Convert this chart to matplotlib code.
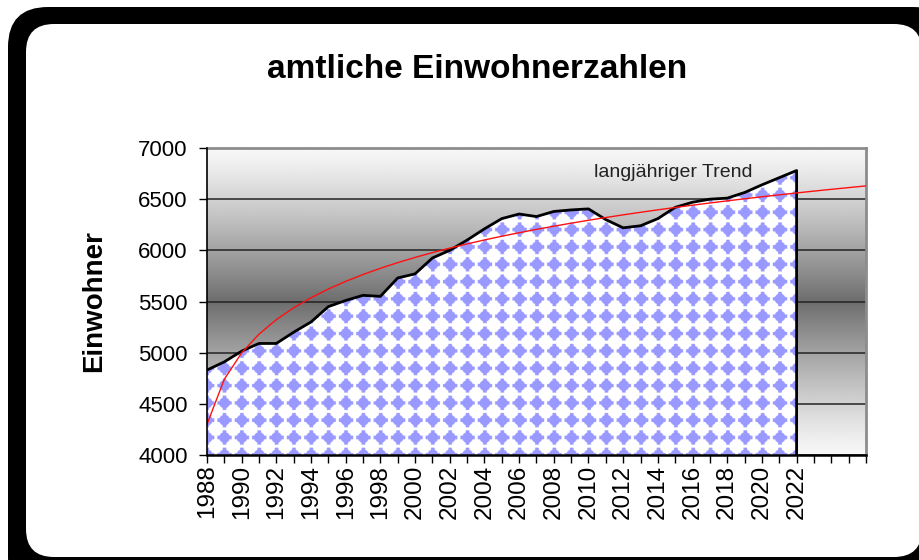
import numpy as np
import matplotlib
matplotlib.use('Agg')
import matplotlib.pyplot as plt
from matplotlib.patches import FancyBboxPatch, Polygon

plt.rcParams['font.family'] = ['Liberation Sans', 'DejaVu Sans']

# amtliche Einwohnerzahlen
years = np.arange(1988, 2023)
einwohner = [4830, 4910, 5015, 5090, 5090, 5200, 5300, 5450, 5510, 5560,
             5550, 5730, 5770, 5925, 6000, 6100, 6210, 6310, 6355, 6330,
             6380, 6395, 6405, 6300, 6220, 6240, 6310, 6420, 6470, 6500,
             6510, 6565, 6640, 6710, 6780]
year_min, year_max = 1988, 2026
y_min, y_max = 4000, 7000

fig = plt.figure(figsize=(9.19, 5.6), dpi=100)

# rounded frame drawn in pixel units
bg = fig.add_axes([0, 0, 1, 1], zorder=-10)
bg.set_xlim(0, 919)
bg.set_ylim(560, 0)
bg.axis('off')
bg.add_patch(FancyBboxPatch((8, 7), 945, 590, boxstyle='round,pad=0,rounding_size=40',
                            fc='black', ec='none'))
bg.add_patch(FancyBboxPatch((26, 24), 896, 533, boxstyle='round,pad=0,rounding_size=28',
                            fc='white', ec='none'))

ax = fig.add_axes([0.2252, 0.1875, 0.7171, 0.5482])
ax.set_xlim(year_min, year_max)
ax.set_ylim(y_min, y_max)

# background gradient: light at top and bottom, dark in the middle
t = np.linspace(-1, 1, 400)
shade = 0.97 - (0.97 - 0.43) * (1 - np.abs(t)) ** 1.2
grad = np.repeat(shade[:, None], 2, axis=1)
ax.imshow(grad, cmap='gray', vmin=0, vmax=1, extent=[year_min, year_max, y_min, y_max],
          origin='lower', aspect='auto', zorder=0)

ax.yaxis.grid(True, color='#222222', lw=1.1)
ax.set_axisbelow(True)

# area under the series, white with a blue dotted pattern
verts = [(years[0], y_min)] + list(zip(years, einwohner)) + [(years[-1], y_min)]
area = Polygon(verts, closed=True, fc='white', ec='none', zorder=2)
ax.add_patch(area)

ax_w_px = 0.7171 * 919
ax_h_px = 0.5482 * 560
period_y = (ax_w_px / (year_max - year_min)) / (ax_h_px / (y_max - y_min))
W, H = int(ax_w_px * 3), int(ax_h_px * 3)
xs = np.linspace(year_min, year_max, W)
ys = np.linspace(y_min, y_max, H)
X, Y = np.meshgrid(xs, ys)
dx = (X - year_min + 0.5) % 1.0 - 0.5
dy = ((Y - y_min) / period_y + 0.5) % 1.0 - 0.5
r = np.sqrt(dx ** 2 + dy ** 2)
blob = (r < 0.31) | ((np.abs(dx) < 0.1) & (np.abs(dy) < 0.41)) | \
       ((np.abs(dy) < 0.1) & (np.abs(dx) < 0.41))
tex = np.ones((H, W, 3))
tex[blob] = [0x99 / 255, 0x99 / 255, 1.0]
im = ax.imshow(tex, extent=[year_min, year_max, y_min, y_max], origin='lower',
               aspect='auto', zorder=2.5, interpolation='antialiased')
im.set_clip_path(area)

# logarithmic trend over the whole axis range
idx = np.arange(1, len(years) + 1)
a, b = np.polyfit(np.log(idx), einwohner, 1)
trend_x = np.arange(year_min, year_max + 1)
trend_y = a * np.log(trend_x - year_min + 1) + b
ax.plot(trend_x, trend_y, color='#ff1010', lw=1.0, zorder=5)

ax.plot(np.append(years, years[-1]), np.append(einwohner, y_min), color='black',
        lw=2.0, zorder=4, solid_joinstyle='round')

ax.text(2010.3, 6760, 'langjähriger Trend', fontsize=14, color='#222222',
        ha='left', va='center', zorder=6)

# axes styling
for side in ['top', 'right']:
    ax.spines[side].set_color('#8c8c8c')
    ax.spines[side].set_linewidth(2)
ax.spines['left'].set_linewidth(1.2)
ax.spines['bottom'].set_linewidth(1.8)
ax.spines['left'].set_zorder(6)
ax.spines['bottom'].set_zorder(6)

ax.set_yticks(np.arange(y_min, y_max + 1, 500))
ax.tick_params(axis='y', direction='out', length=6, width=1, labelsize=16, pad=8)
ax.set_xticks(np.arange(year_min, year_max + 1))
xlabels = [str(y) if (y % 2 == 0 and y <= years[-1]) else '' for y in range(year_min, year_max + 1)]
ax.set_xticklabels(xlabels, rotation=90)
ax.tick_params(axis='x', direction='out', length=6, width=1, labelsize=17.5, pad=1)

ax.set_ylabel('Einwohner', fontsize=20, fontweight='bold', labelpad=22)
fig.text(0.519, 1 - 70 / 560, 'amtliche Einwohnerzahlen', fontsize=24, fontweight='bold',
         ha='center', va='center')

fig.savefig('out.png', dpi=100)
